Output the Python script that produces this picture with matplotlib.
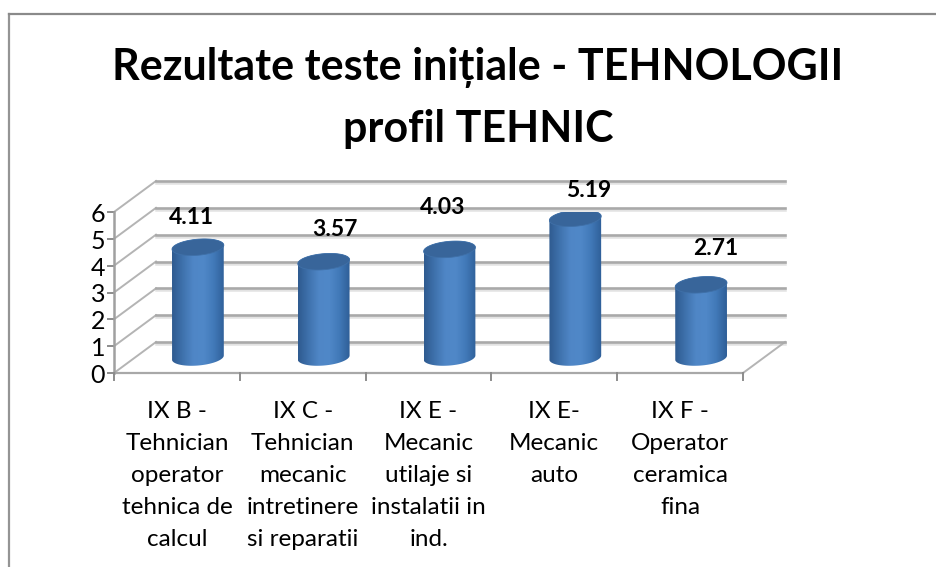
import matplotlib
matplotlib.use("Agg")
import matplotlib.pyplot as plt
import numpy as np
from matplotlib.colors import LinearSegmentedColormap
from matplotlib.patches import Polygon

plt.rcParams["font.family"] = ["Lato", "DejaVu Sans"]

W, H = 936, 567

title_lines = ["Rezultate teste inițiale - TEHNOLOGII", "profil TEHNIC"]
categories = [
    "IX B -\nTehnician\noperator\ntehnica de\ncalcul",
    "IX C -\nTehnician\nmecanic\nintretinere\nsi reparatii",
    "IX E -\nMecanic\nutilaje si\ninstalatii in\nind.",
    "IX E-\nMecanic\nauto",
    "IX F -\nOperator\nceramica\nfina",
]
values = [4.11, 3.57, 4.03, 5.19, 2.71]
value_labels = ["4.11", "3.57", "4.03", "5.19", "2.71"]
y_ticks = [0, 1, 2, 3, 4, 5, 6]

# hand placed data labels in the original, shift from the cylinder top (pixels)
label_dx = [-6, 11, -7, 13, 15]
label_dy = [30, 32, 42, 28, 36]

# front plane of the 3D box, in pixels
left, right, bottom, top = 114, 743, 373, 212
depth_x, depth_y = 42, 31

fig = plt.figure(figsize=(W / 100, H / 100), dpi=100)
ax = fig.add_axes([left / W, 1 - bottom / H, (right - left) / W, (bottom - top) / H])
ax.set_xlim(0, len(values))
ax.set_ylim(0, 6)
ax.axis("off")

px_x = len(values) / (right - left)
px_y = 6 / (bottom - top)
dx, dy = depth_x * px_x, depth_y * px_y
n = len(values)

grid_col = "#a9a9a9"
for v in y_ticks:
    # soft shadow under the back wall lines
    ax.plot([dx, n + dx], [v + dy - 2 * px_y] * 2, color="#e2e2e2", lw=1.8, clip_on=False, zorder=1)
    ax.plot([dx, n + dx], [v + dy] * 2, color=grid_col, lw=1.9, clip_on=False, zorder=1.2)
    ax.plot([0, dx], [v, v + dy], color="#b4b4b4", lw=1.4, clip_on=False, zorder=1)
    ax.plot([-6 * px_x, 0], [v, v], color="#8c8c8c", lw=1.4, clip_on=False, zorder=1.2)
    ax.text(-9 * px_x, v - 2.5 * px_y, str(v), ha="right", va="center", fontsize=18, color="black")

ax.plot([n, n + dx], [0, dy], color="#b4b4b4", lw=1.4, clip_on=False, zorder=1)
ax.plot([0, n], [0, 0], color="#a8a8a8", lw=1.6, clip_on=False, zorder=1.2)
ax.plot([0, 0], [0, 6], color="#a0a0a0", lw=1.8, clip_on=False, zorder=1.2)
for i in range(n + 1):
    ax.plot([i, i], [0, -7 * px_y], color="#8c8c8c", lw=1.4, clip_on=False, zorder=1.2)

body_cmap = LinearSegmentedColormap.from_list(
    "body", ["#2f5b90", "#3f72ad", "#4f86c6", "#5088c8", "#4179b8", "#2f5f98"]
)
rx, ry, tilt = 26, 8, np.deg2rad(5)
t = np.linspace(0, 2 * np.pi, 121)
ell_x = rx * np.cos(t) * np.cos(tilt) - ry * np.sin(t) * np.sin(tilt)
ell_y = rx * np.cos(t) * np.sin(tilt) + ry * np.sin(t) * np.cos(tilt)

for i, v in enumerate(values):
    cx = i + 0.5 + dx / 2
    base = dy / 2
    xb, yb = cx + ell_x * px_x, base + ell_y * px_y
    xt, yt = cx + ell_x * px_x, base + v + ell_y * px_y
    # outline of the body: lower half of the base ellipse + upper half of the top ellipse
    lower = np.sin(t) <= 0
    low_pts = np.column_stack([xb[lower], yb[lower]])
    low_pts = low_pts[np.argsort(low_pts[:, 0])]
    up_pts = np.column_stack([xt[~lower], yt[~lower]])
    up_pts = up_pts[np.argsort(-up_pts[:, 0])]
    body = Polygon(np.vstack([low_pts, up_pts]), closed=True, fc="none", ec="none", zorder=3)
    ax.add_patch(body)
    im = ax.imshow(
        np.linspace(0, 1, 64).reshape(1, -1),
        cmap=body_cmap,
        extent=[cx - rx * px_x, cx + rx * px_x, 0, v + dy],
        aspect="auto",
        zorder=3,
    )
    im.set_clip_path(body)
    ax.add_patch(Polygon(np.column_stack([xt, yt]), closed=True, fc="#38659a", ec="#3f70a8", lw=0.6, zorder=4))
    ax.text(
        cx + label_dx[i] * px_x,
        base + v + label_dy[i] * px_y,
        value_labels[i],
        ha="center",
        va="center",
        fontsize=16.5,
        fontweight="bold",
        color="black",
    )

ax.set_xlim(0, n)
ax.set_ylim(0, 6)

line_step = 32
for i, lab in enumerate(categories):
    for j, line in enumerate(lab.split("\n")):
        ax.text(i + 0.5, -(412 + j * line_step - bottom) * px_y, line, ha="center", va="center",
                fontsize=17.5, color="black", clip_on=False)

fig.text(478 / W, 1 - 80 / H, title_lines[0], ha="center", va="baseline", fontsize=31, fontweight="bold")
fig.text(478 / W, 1 - 142 / H, title_lines[1], ha="center", va="baseline", fontsize=31, fontweight="bold")

# chart frame, only top and left are visible in the crop
fig.add_artist(plt.Line2D([9 / W, 9 / W], [0, 1 - 14 / H], color="#949494", lw=1.6))
fig.add_artist(plt.Line2D([9 / W, 1], [1 - 14 / H, 1 - 14 / H], color="#8a8a8a", lw=1.6))

fig.savefig("out.png", dpi=100)
